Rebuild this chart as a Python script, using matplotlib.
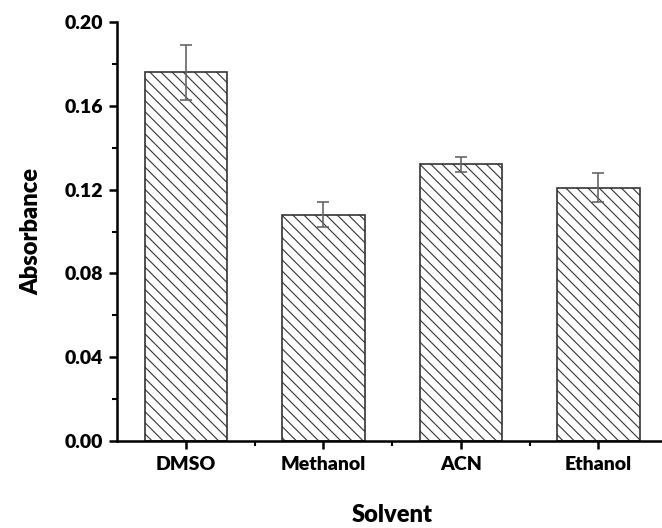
import matplotlib
matplotlib.use("Agg")
import matplotlib.pyplot as plt
from matplotlib.ticker import MultipleLocator, FixedLocator

categories = ["DMSO", "Methanol", "ACN", "Ethanol"]
values = [0.176, 0.108, 0.132, 0.121]
errors = [0.013, 0.006, 0.0037, 0.0068]
yticks = [0.00, 0.04, 0.08, 0.12, 0.16, 0.20]

plt.rcParams['font.family'] = ['Lato', 'DejaVu Sans']
plt.rcParams['hatch.linewidth'] = 0.8

fig = plt.figure(figsize=(6.62, 5.28), dpi=100)
ax = fig.add_axes([117/662, 87/528, 550/662, 419/528])

x = list(range(len(categories)))
ax.bar(x, values, width=0.6, color='white', edgecolor='#333333', linewidth=1.2,
       hatch='\\\\\\', zorder=2)
ax.errorbar(x, values, yerr=errors, fmt='none', ecolor='#666666', elinewidth=1.2,
            capsize=4.5, capthick=1.2, zorder=3)

ax.set_xlim(-0.5, 3.5)
ax.set_ylim(0, 0.20)
ax.set_xticks(x)
ax.set_xticklabels(categories, fontsize=14, fontweight='heavy')
ax.xaxis.set_minor_locator(FixedLocator([0.5, 1.5, 2.5]))
ax.set_yticks(yticks)
ax.set_yticklabels([f"{t:.2f}" for t in yticks], fontsize=14, fontweight='heavy')
ax.yaxis.set_minor_locator(MultipleLocator(0.02))

for s in ['top', 'right']:
    ax.spines[s].set_visible(False)
for s in ['left', 'bottom']:
    ax.spines[s].set_linewidth(1.8)

ax.tick_params(which='major', direction='out', length=6, width=1.8, pad=4)
ax.tick_params(which='minor', direction='out', length=3.5, width=1.5)
ax.tick_params(axis='x', which='major', pad=5)

ax.set_xlabel("Solvent", fontsize=17, fontweight='heavy', labelpad=22)
ax.set_ylabel("Absorbance", fontsize=17, fontweight='heavy', labelpad=16)

fig.savefig("out.png", dpi=100)
